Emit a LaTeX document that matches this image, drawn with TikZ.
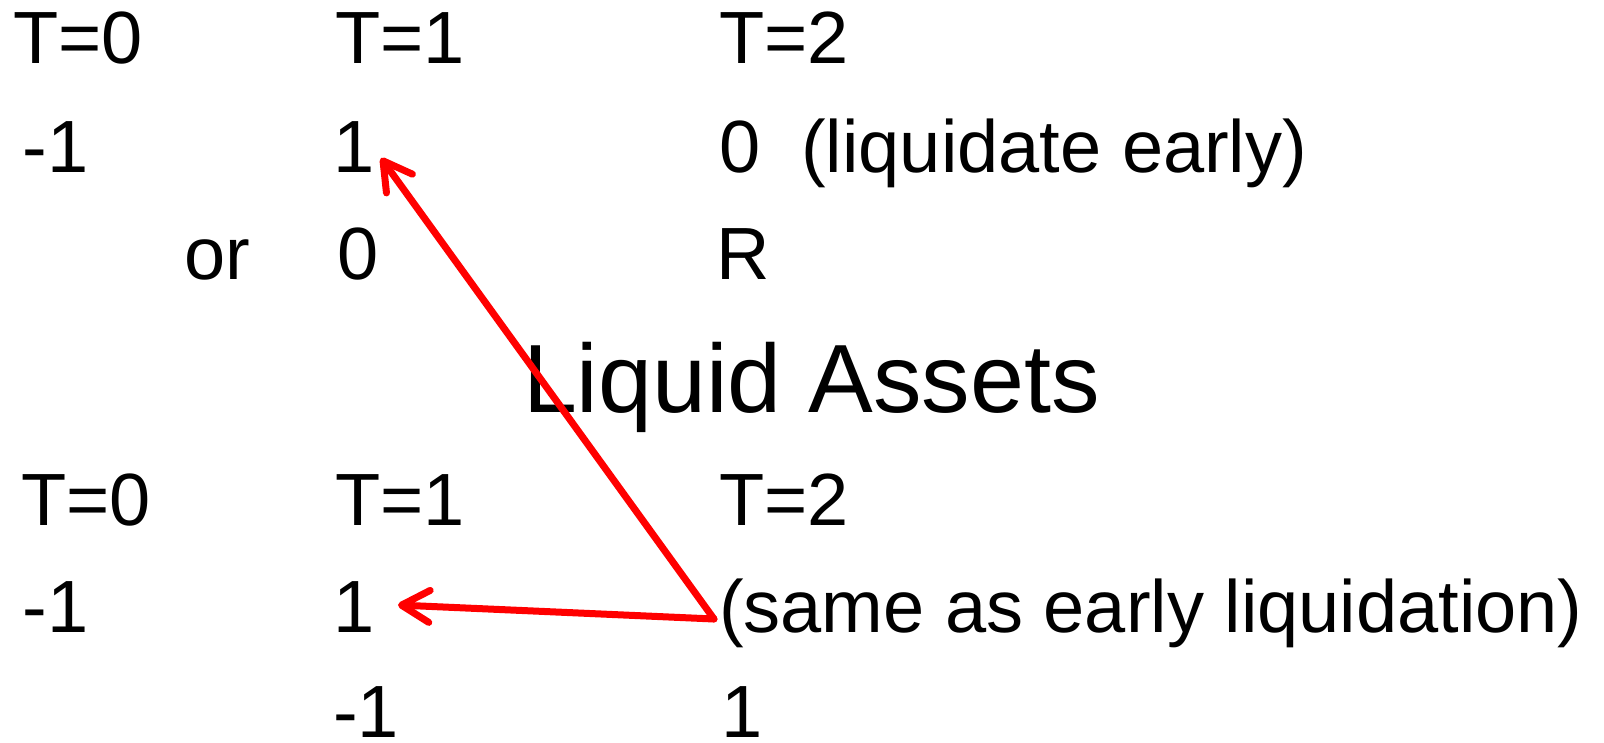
\documentclass[tikz,border=0pt]{standalone}
\usepackage{fontspec}
\setmainfont{Liberation Sans}
\usetikzlibrary{arrows.meta}
\begin{document}
\begin{tikzpicture}[x=1pt,y=-1pt,
  lbl/.style={anchor=base west,inner sep=0pt,outer sep=0pt,font=\fontsize{74}{80}\selectfont},
  ttl/.style={anchor=base west,inner sep=0pt,outer sep=0pt,font=\fontsize{97}{100}\selectfont},
  redarrow/.style={draw=red,line width=7pt,line cap=round,line join=round,
    -{Straight Barb[length=28pt,width=32pt,round]}}]
\useasboundingbox (0,0) rectangle (1604,742);
% top block
\node[lbl] (a0) at (13,63) {T=0};
\node[lbl] (a1) at (335,63) {T=1};
\node[lbl] (a2) at (719,63) {T=2};
\node[lbl] (b0) at (23,172) {-1};
\node[lbl] (b1) at (333,172) {1};
\node[lbl] (b2) at (719,172) {0~~(liquidate early)};
\node[lbl] (c0) at (184,279) {or};
\node[lbl] (c1) at (337,279) {0};
\node[lbl] (c2) at (716,279) {R};
% title
\node[ttl] (title) at (523,412) {Liquid Assets};
% bottom block
\node[lbl] (d0) at (21,525) {T=0};
\node[lbl] (d1) at (335,525) {T=1};
\node[lbl] (d2) at (719,525) {T=2};
\node[lbl] (e0) at (23,632) {-1};
\node[lbl] (e1) at (333,632) {1};
\node[lbl] (e2) at (719,632) {(same as early liquidation)};
\node[lbl] (f1) at (333,737) {-1};
\node[lbl] (f2) at (721,737) {1};
% arrows
\coordinate (v) at (714,619);
\coordinate (tipA) at (381,158);
\coordinate (tipB) at (398,605);
\draw[redarrow] (v) -- (tipA);
\draw[redarrow] (v) -- (tipB);
\end{tikzpicture}
\end{document}
